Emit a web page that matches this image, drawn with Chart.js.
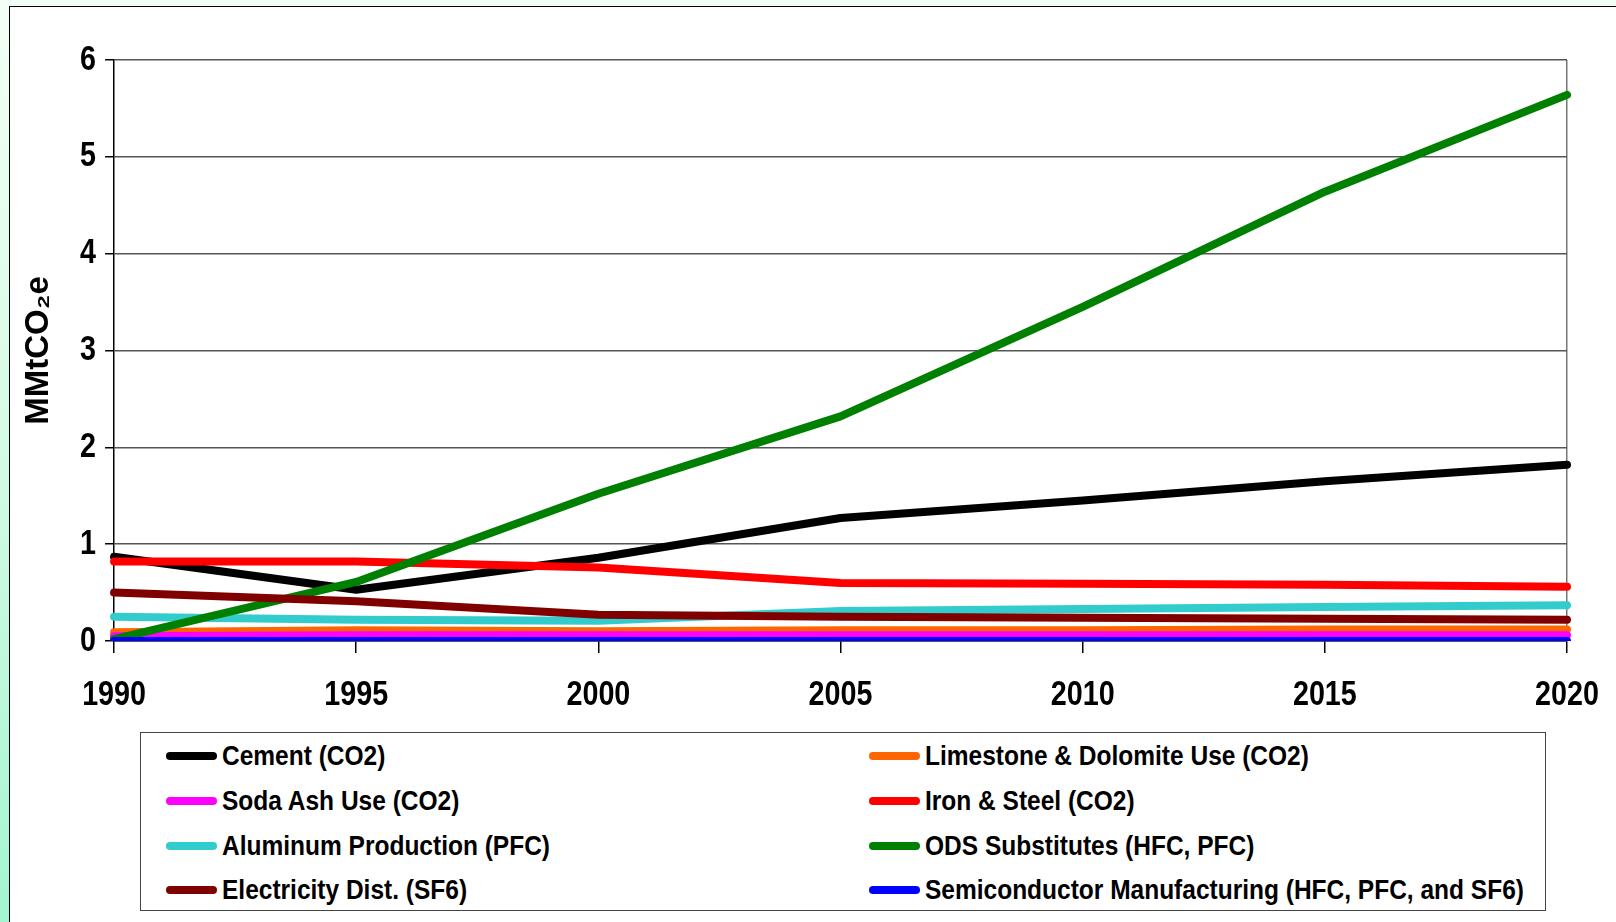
<!DOCTYPE html>
<html>
<head>
<meta charset="utf-8">
<script src="https://cdn.jsdelivr.net/npm/chart.js@4.4.1/dist/chart.umd.min.js"></script>
<style>
html, body { margin: 0; padding: 0; }
body {
    width: 1616px; height: 922px; overflow: hidden; position: relative;
    background: linear-gradient(to bottom, #f3fff6 0%, #d8fbe7 45%, #a3f5d1 100%);
}
#panel {
    position: absolute; left: 9px; top: 6px; width: 1640px; height: 940px;
    background: #fff; border: 1.5px solid #000;
}
#chart { position: absolute; left: 0; top: 0; }
#legend {
    position: absolute; left: 140px; top: 732px; width: 1404px; height: 177px;
    border: 1.5px solid #444; background: #fff;
    font-family: 'Liberation Sans', Arial, sans-serif;
    font-weight: bold; font-size: 28px; color: #000;
}
.item { position: absolute; height: 40px; display: flex; align-items: center; white-space: nowrap; }
.swatch { width: 51px; height: 8px; border-radius: 4px; margin-right: 5px; flex: none; }
.name { display: inline-block; transform: scaleX(0.875); transform-origin: left center; }
</style>
</head>
<body>
<div id="panel"></div>
<canvas id="chart" width="1616" height="922"></canvas>
<div id="legend"></div>
<script>
const years = ['1990', '1995', '2000', '2005', '2010', '2015', '2020'];

const cement        = [0.87, 0.53, 0.86, 1.27, 1.45, 1.65, 1.82];
const limestone     = [0.09, 0.11, 0.10, 0.11, 0.11, 0.12, 0.12];
const sodaAsh       = [0.05, 0.06, 0.06, 0.06, 0.06, 0.06, 0.06];
const ironSteel     = [0.82, 0.82, 0.76, 0.60, 0.59, 0.58, 0.56];
const aluminum      = [0.25, 0.22, 0.21, 0.31, 0.33, 0.35, 0.37];
const odsSubs       = [0.02, 0.61, 1.52, 2.32, 3.45, 4.64, 5.64];
const electricity   = [0.50, 0.41, 0.27, 0.25, 0.24, 0.23, 0.22];
const semiconductor = [0.00, 0.00, 0.00, 0.00, 0.00, 0.00, 0.00];

const seriesNames = [
    'Cement (CO2)', 'Limestone & Dolomite Use (CO2)',
    'Soda Ash Use (CO2)', 'Iron & Steel (CO2)',
    'Aluminum Production (PFC)', 'ODS Substitutes (HFC, PFC)',
    'Electricity Dist. (SF6)', 'Semiconductor Manufacturing (HFC, PFC, and SF6)'
];
const seriesValues = [cement, limestone, sodaAsh, ironSteel, aluminum, odsSubs, electricity, semiconductor];
const seriesColors = ['#000000', '#ff6600', '#ff00ff', '#ff0000', '#33cccc', '#008000', '#800000', '#0000ff'];

const yTicks = [0, 1, 2, 3, 4, 5, 6];

const tickFont = { family: "'Liberation Sans', Arial, sans-serif", size: 35, weight: 'bold' };

// the original uses a narrow bold face; squeeze the tick labels sideways instead
const condenseTicks = {
    id: 'condenseTicks',
    beforeDraw(chart) {
        ['x', 'y'].forEach(id => {
            const s = chart.scales[id];
            if (!s || s._condensed) return;
            const orig = s.drawLabels;
            s.drawLabels = function (area) {
                const c = this.ctx;
                const fill = c.fillText;
                c.fillText = function (t, x, y) {
                    this.save();
                    this.translate(x, y);
                    this.scale(0.82, 1);
                    fill.call(this, t, 0, 0);
                    this.restore();
                };
                orig.call(this, area);
                delete c.fillText;
            };
            s._condensed = true;
        });
    }
};

function build_datasets() {
    const sets = [];
    for (let i = 0; i < seriesNames.length; i++) {
        sets.push({
            label: seriesNames[i],
            data: seriesValues[i],
            borderColor: seriesColors[i],
            backgroundColor: seriesColors[i],
            borderWidth: 8,
            pointRadius: 0,
            pointHoverRadius: 0,
            tension: 0,
            fill: false,
            borderCapStyle: 'round',
            borderJoinStyle: 'round',
            order: seriesNames.length - i   // later series drawn on top, like the original
        });
    }
    return sets;
}

function fill_legend() {
    const box = document.getElementById('legend');
    const colX = [25, 728];
    const rowY = [3, 48, 93, 137];
    for (let i = 0; i < seriesNames.length; i++) {
        const item = document.createElement('div');
        item.className = 'item';
        item.style.left = colX[i % 2] + 'px';
        item.style.top = rowY[Math.floor(i / 2)] + 'px';
        const sw = document.createElement('span');
        sw.className = 'swatch';
        sw.style.background = seriesColors[i];
        const txt = document.createElement('span');
        txt.className = 'name';
        txt.innerText = seriesNames[i];
        item.appendChild(sw);
        item.appendChild(txt);
        box.appendChild(item);
    }
}

function draw_chart() {
    const ctx = document.getElementById('chart').getContext('2d');
    new Chart(ctx, {
        type: 'line',
        data: { labels: years, datasets: build_datasets() },
        plugins: [condenseTicks],
        options: {
            responsive: false,
            animation: false,
            devicePixelRatio: 1,
            layout: { padding: { left: 0, right: 49, top: 60, bottom: 185 } },
            plugins: { legend: { display: false }, tooltip: { enabled: false } },
            scales: {
                x: {
                    offset: false,
                    // end labels may hang past the plot edge, as in the original
                    afterFit: s => { s.paddingLeft = 0; s.paddingRight = 0; },
                    grid: {
                        drawOnChartArea: true,
                        color: c => c.index === years.length - 1 ? '#777' : 'rgba(0,0,0,0)',
                        tickColor: '#000',
                        tickLength: 12,
                        lineWidth: 1.5
                    },
                    border: { display: true, color: '#000', width: 1.5 },
                    ticks: { font: tickFont, color: '#000', padding: 21, maxRotation: 0, autoSkip: false }
                },
                y: {
                    min: yTicks[0],
                    max: yTicks[yTicks.length - 1],
                    afterBuildTicks: axis => { axis.ticks = yTicks.map(v => ({ value: v })); },
                    grid: { color: '#555', lineWidth: 1.5, tickLength: 9, tickColor: '#000' },
                    border: { display: true, color: '#000', width: 1.5 },
                    ticks: { font: tickFont, color: '#000', padding: 9 },
                    title: {
                        display: true,
                        text: 'MMtCO\u2082e',
                        color: '#000',
                        font: { family: "'Liberation Sans', Arial, sans-serif", size: 33, weight: 'bold' },
                        padding: { top: 19, bottom: 9 }
                    }
                }
            }
        }
    });
}

fill_legend();
draw_chart();
</script>
</body>
</html>
